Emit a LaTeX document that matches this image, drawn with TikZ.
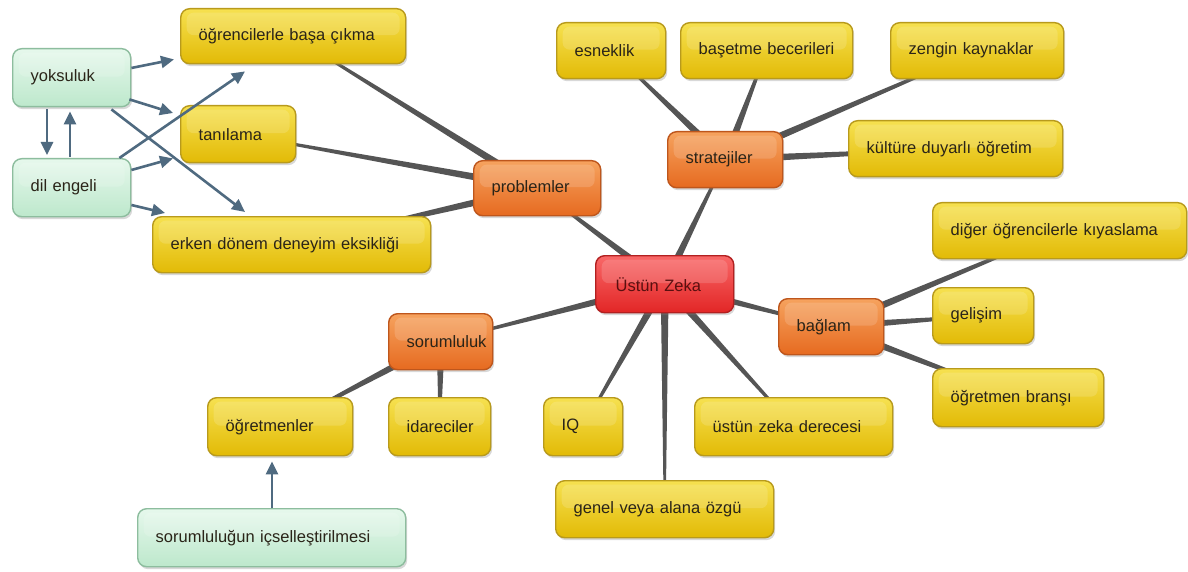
\documentclass[tikz,border=0pt]{standalone}
\usepackage{fontspec}
\setmainfont{Liberation Sans}
\usetikzlibrary{calc,shadows,arrows.meta,backgrounds}
\definecolor{ytop}{HTML}{F6E150}
\definecolor{ybot}{HTML}{E2BA06}
\definecolor{ydraw}{HTML}{B89A1C}
\definecolor{otop}{HTML}{F6A25E}
\definecolor{obot}{HTML}{E66A20}
\definecolor{odraw}{HTML}{BE561C}
\definecolor{rtop}{HTML}{F96868}
\definecolor{rbot}{HTML}{E22626}
\definecolor{rdraw}{HTML}{B22020}
\definecolor{gtop}{HTML}{E6F8EC}
\definecolor{gbot}{HTML}{BDE8CC}
\definecolor{gdraw}{HTML}{8DBD9E}
\definecolor{txt}{HTML}{2A2418}
\definecolor{linkc}{HTML}{555555}
\definecolor{arrc}{HTML}{4F6A80}
\newcommand\taper[2]{\fill[linkc] ($(#1.center)!1pt!90:(#2.center)$) -- ($(#2.center)!4pt!-90:(#1.center)$) -- ($(#2.center)!4pt!90:(#1.center)$) -- ($(#1.center)!1pt!-90:(#2.center)$) -- cycle;}
\begin{document}
\begin{tikzpicture}[x=1pt,y=-1pt,
  box/.style={anchor=north west, rounded corners=9pt, line width=1.4pt, inner xsep=18pt, inner ysep=0pt,
    font=\fontsize{16.5}{19}\selectfont, text=txt, align=left,
    drop shadow={opacity=0.3, shadow xshift=1.5pt, shadow yshift=-2.5pt},
    path picture={\fill[white, opacity=0.15, rounded corners=7pt]
      ($(path picture bounding box.north west)+(6,4)$) rectangle ($(path picture bounding box.east)+(-6,-1)$);}},
  ybox/.style={box, draw=ydraw, top color=ytop, bottom color=ybot},
  obox/.style={box, draw=odraw, top color=otop, bottom color=obot},
  rbox/.style={box, draw=rdraw, top color=rtop, bottom color=rbot, text=rdraw!50!black},
  gbox/.style={box, draw=gdraw, top color=gtop, bottom color=gbot},
  arr/.style={draw=arrc, line width=2.6pt, -{Triangle[length=13pt,width=12pt]}}]
\useasboundingbox (0,0) rectangle (1188,572);

% nodes
\node[gbox, text width=82pt, minimum height=58pt] (yok) at (12,48) {\mbox{yoksuluk}};
\node[gbox, text width=82pt, minimum height=58pt] (dil) at (12,158) {\mbox{dil engeli}};
\node[ybox, text width=189pt, minimum height=55pt] (ogr) at (180,8) {\mbox{öğrencilerle başa çıkma}};
\node[ybox, text width=79pt, minimum height=57pt] (tan) at (180,105) {\mbox{tanılama}};
\node[ybox, text width=242pt, minimum height=56pt] (erk) at (152,216) {\mbox{erken dönem deneyim eksikliği}};
\node[obox, text width=91pt, minimum height=55pt] (pro) at (473,160) {\mbox{problemler}};
\node[rbox, text width=98pt, minimum height=57pt, inner xsep=20pt] (ust) at (595,255) {\mbox{Üstün Zeka}};
\node[obox, text width=79pt, minimum height=56pt] (str) at (667,131) {\mbox{stratejiler}};
\node[ybox, text width=73pt, minimum height=56pt] (esn) at (556,22) {\mbox{esneklik}};
\node[ybox, text width=136pt, minimum height=56pt] (bas) at (680,22) {\mbox{başetme becerileri}};
\node[ybox, text width=137pt, minimum height=56pt] (zen) at (890,22) {\mbox{zengin kaynaklar}};
\node[ybox, text width=178pt, minimum height=56pt] (kul) at (848,120) {\mbox{kültüre duyarlı öğretim}};
\node[ybox, text width=218pt, minimum height=56pt] (dig) at (932,202) {\mbox{diğer öğrencilerle kıyaslama}};
\node[ybox, text width=65pt, minimum height=56pt] (gel) at (932,287) {\mbox{gelişim}};
\node[ybox, text width=135pt, minimum height=58pt] (obr) at (932,368) {\mbox{öğretmen branşı}};
\node[obox, text width=69pt, minimum height=56pt] (bag) at (778,298) {\mbox{bağlam}};
\node[obox, text width=68pt, minimum height=56pt] (sor) at (388,313) {\mbox{sorumluluk}};
\node[ybox, text width=109pt, minimum height=58pt] (ogt) at (207,397) {\mbox{öğretmenler}};
\node[ybox, text width=66pt, minimum height=58pt] (ida) at (388,397) {\mbox{idareciler}};
\node[ybox, text width=43pt, minimum height=58pt] (iq) at (543,397) {\mbox{IQ}};
\node[ybox, text width=162pt, minimum height=58pt] (uzd) at (694,397) {\mbox{üstün zeka derecesi}};
\node[ybox, text width=182pt, minimum height=57pt] (gen) at (555,480) {\mbox{genel veya alana özgü}};
\node[gbox, text width=232pt, minimum height=58pt] (sic) at (137,508) {\mbox{sorumluluğun içselleştirilmesi}};

% tapered links
\begin{pgfonlayer}{background}
\fill[white] (0,0) rectangle (1188,572);
\taper{ogr}{pro}
\taper{tan}{pro}
\taper{erk}{pro}
\taper{pro}{ust}
\taper{str}{ust}
\taper{esn}{str}
\taper{bas}{str}
\taper{zen}{str}
\taper{kul}{str}
\taper{bag}{ust}
\taper{dig}{bag}
\taper{gel}{bag}
\taper{obr}{bag}
\taper{sor}{ust}
\taper{ogt}{sor}
\taper{ida}{sor}
\taper{iq}{ust}
\taper{uzd}{ust}
\taper{gen}{ust}
\end{pgfonlayer}

% arrows
\draw[arr] ($(yok.north east)+(0,20)$) -- ($(ogr.south west)+(-6,-5)$);
\draw[arr] ($(yok.south east)+(-2,-8)$) -- ($(tan.north west)+(-7,8)$);
\draw[arr] ($(yok.south east)+(-20,2)$) -- ($(erk.north west)+(93,-4)$);
\draw[arr] ($(yok.south west)+(35,2)$) -- ($(dil.north west)+(35,-3)$);
\draw[arr] ($(dil.north west)+(58,-1)$) -- ($(yok.south west)+(58,4)$);
\draw[arr] ($(dil.north east)+(-12,0)$) -- ($(ogr.south west)+(65,7)$);
\draw[arr] ($(dil.north east)+(0,12)$) -- ($(tan.south west)+(-7,-5)$);
\draw[arr] ($(dil.north east)+(0,47)$) -- ($(erk.north west)+(13,-3)$);
\draw[arr] ($(sic.north west)+(135,0)$) -- ($(ogt.south west)+(65,5)$);
\end{tikzpicture}
\end{document}
